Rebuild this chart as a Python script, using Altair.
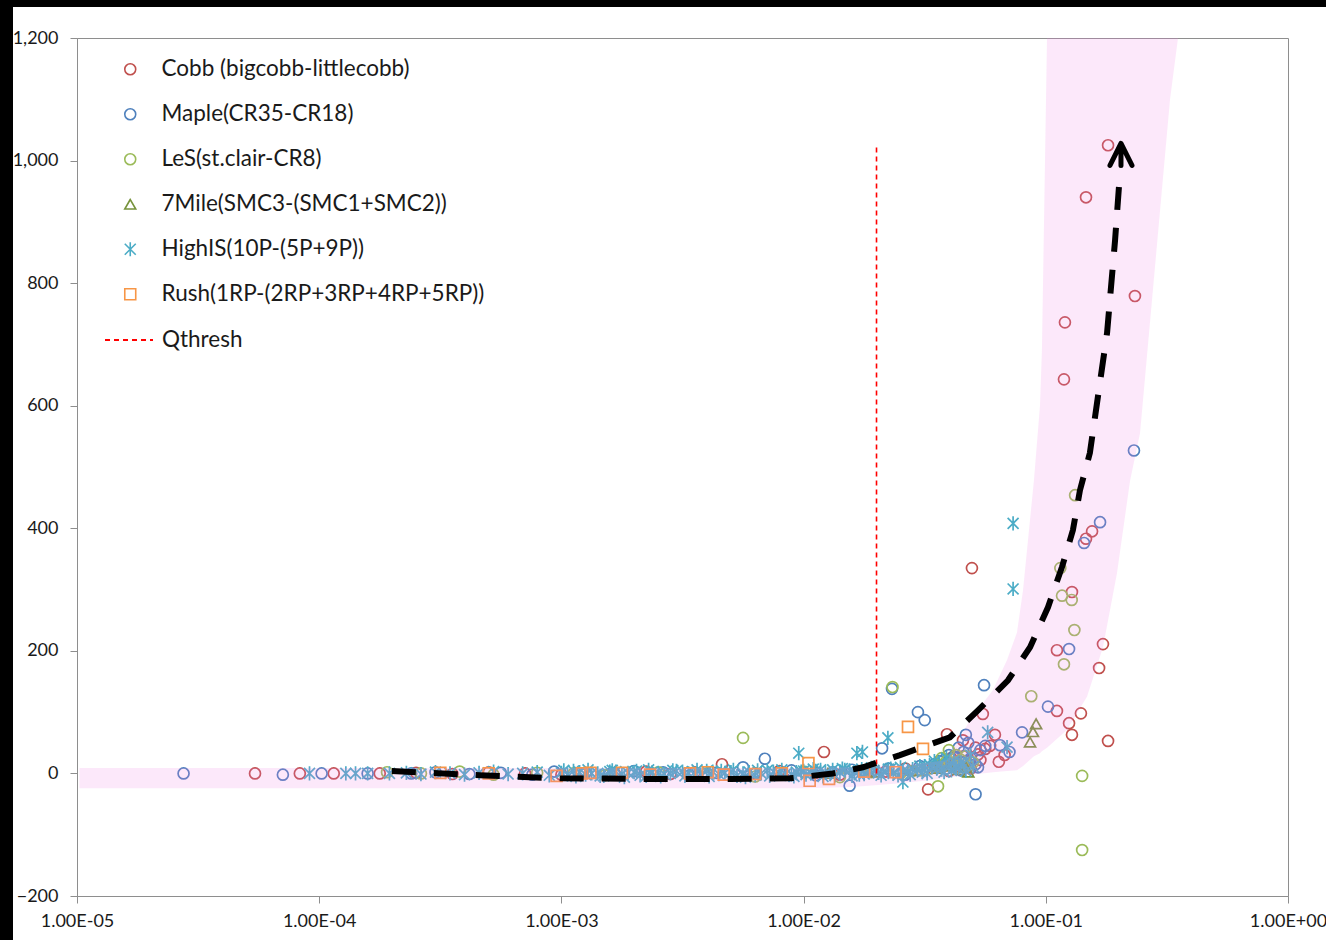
import altair as alt
import pandas as pd

# ---------------- data (x stored as log10 of Q) ----------------
SERIES = ["Cobb (bigcobb-littlecobb)", "Maple(CR35-CR18)", "LeS(st.clair-CR8)",
          "7Mile(SMC3-(SMC1+SMC2))", "HighIS(10P-(5P+9P))", "Rush(1RP-(2RP+3RP+4RP+5RP))"]
COLORS = ["#C0504D", "#4F81BD", "#9BBB59", "#77933C", "#4BACC6", "#F79646"]
ASTERISK = "M-1,-1L1,1M-1,1L1,-1M0,-1.3L0,1.3"
SHAPES = ["circle", "circle", "circle", "triangle-up", ASTERISK, "square"]
SIZES = [120, 120, 120, 130, 105, 140]

cobb_log10q = [
    -4.265, -4.08, -3.94, -3.75, -3.60, -3.45, -3.30, -3.15, -3.00, -2.90,
    -2.78, -2.65, -2.55, -2.45, -2.337, -2.20, -2.10, -1.95, -1.85, -1.75,
    -1.66, -1.58, -1.50, -1.45, -1.40, -1.36,
    -0.743, -0.834, -0.632, -0.921, -0.925, -1.305, -0.809, -0.834, -0.892, -0.764,
    -0.954, -0.78, -0.954, -0.855, -0.904, -0.892, -0.743, -1.26, -1.408, -1.21,
    -1.194, -1.17, -1.28, -1.486, -1.916, -1.342, -1.23, -1.25, -1.33, -1.38,
    -1.43, -1.39, -1.34, -1.31, -1.29, -1.27]
cobb_y = [
    0, 0, 0, 0, 1, -1, 2, 0, -2, 1,
    0, 3, -1, 2, 15, 0, 4, 1, -2, 5,
    3, 8, 6, 10, 4, 12,
    1025, 940, 779, 736, 643, 335, 395, 383, 296, 211,
    201, 172, 102, 98, 82, 63, 53, 97, 64, 63,
    19, 30, 31, -26, 35, 54, 45, 40, 20, 15,
    10, 25, 28, 8, 42, 22]

maple_log10q = [
    -4.56, -4.15, -3.99, -3.80, -3.62, -3.52, -3.38, -3.25, -3.12, -3.03,
    -2.92, -2.80, -2.70, -2.58, -2.47, -2.36, -2.25, -2.16, -2.05, -1.95,
    -1.88, -1.80, -1.72, -1.65, -1.58, -1.52, -1.46, -1.42, -1.38, -1.34,
    -0.636, -0.776, -0.842, -0.904, -0.991, -1.098, -1.255, -1.29, -1.635, -1.528,
    -1.50, -1.676, -1.81, -1.33, -1.32, -1.36, -1.25, -1.189, -1.15, -1.28, -1.40,
    -1.44, -1.41, -1.37, -1.35, -1.31, -1.29, -1.27]
maple_y = [
    0, -2, 0, 0, 0, 2, -1, 1, -2, 3,
    0, -1, 4, 2, -3, 1, 10, 24, 5, -3,
    2, 6, 4, 8, -2, 12, 15, 22, 28, 35,
    527, 410, 376, 203, 109, 67, 144, -34, 138, 100,
    87, 41, -20, 63, 50, 42, 45, 46, 35, 10, 30,
    20, 8, 18, 5, 25, 15, 38]

les_log10q = [
    -3.72, -3.58, -3.42, -3.28, -3.10, -2.95, -2.82, -2.60, -2.40, -2.20,
    -2.00, -1.85, -1.72, -1.60, -1.52, -1.46, -1.42, -1.38, -1.35, -1.32,
    -0.85, -0.85, -0.879, -0.94, -0.933, -0.893, -0.882, -0.925, -1.06, -1.633,
    -2.25, -1.445, -1.43, -1.37, -1.40,
    -1.48, -1.44, -1.41, -1.36, -1.33, -1.30, -1.55]
les_y = [
    2, 0, 3, -2, 1, 0, -3, 2, 0, -5,
    3, -6, 2, 0, 5, 10, 14, 18, 22, 12,
    -125, -4, 454, 335, 290, 283, 234, 178, 126, 141,
    58, -21, 25, 30, 38,
    8, 14, 20, 10, 28, 18, 4]

mile_log10q = [-2.80, -2.40, -2.10, -1.90, -1.70, -1.55, -1.45, -1.40, -1.36, -1.33,
               -1.32, -1.04, -1.053, -1.065]
mile_y = [0, 1, -2, 0, 2, 5, 8, 12, 6, 10,
          2, 81, 68, 51]

highis_log10q = [
    -4.04, -3.89, -3.85, -3.80, -3.71, -3.64, -3.58, -3.52, -3.46, -3.40,
    -3.34, -3.28, -3.22, -3.16, -3.10, -3.05, -3.00, -2.95, -2.90, -2.85,
    -2.80, -2.75, -2.70, -2.65, -2.60, -2.55, -2.50, -2.45, -2.40, -2.35,
    -2.30, -2.25, -2.20, -2.15, -2.10, -2.05, -2.01, -1.97, -1.93, -1.89,
    -1.85, -1.81, -1.77, -1.73, -1.69, -1.65, -1.61, -1.57, -1.53, -1.49,
    -1.45, -1.42, -1.39, -1.36, -1.33, -1.30, -2.02, -1.78, -1.757, -1.652,
    -1.59, -1.24, -1.16, -1.135, -1.135, -1.50, -1.44, -1.38,
    -2.975, -2.925, -2.875, -2.825, -2.775, -2.725, -2.675, -2.625, -2.575, -2.525,
    -2.475, -2.425, -2.375, -2.325, -2.275, -2.225, -2.175, -2.125, -2.075, -2.03,
    -1.99, -1.95, -1.91, -1.87, -1.83, -1.79, -1.75, -1.71, -1.67, -1.63,
    -1.59, -1.55, -1.51, -1.47, -1.43, -1.40, -1.37, -1.34,
    -2.99, -2.94, -2.89, -2.84, -2.79, -2.74, -2.69, -2.64, -2.59, -2.54,
    -2.49, -2.44, -2.39, -2.34, -2.29, -2.24, -2.19, -2.14, -2.09, -2.04,
    -2.00, -1.96, -1.92, -1.88, -1.84, -1.80, -1.76, -1.72, -1.68, -1.64,
    -1.60, -1.56, -1.52, -1.48, -1.46, -1.41, -1.35, -1.31]
highis_y = [
    0, 0, 0, 0, 0, 1, -1, 2, 0, -2,
    1, 3, -1, 0, 2, -3, 1, 4, -2, 0,
    3, -1, 2, -4, 1, 0, 3, -2, 4, -1,
    2, 0, -3, 5, 1, -2, 3, 0, 6, -1,
    2, 5, -2, 4, 1, 7, -3, 3, 6, 0,
    8, 2, 5, 9, 4, 11, 33, 33, 35, 58,
    -14, 67, 43, 408, 301, 12, 16, 20,
    -2, 2, 0, -4, 3, 1, -3, 2, -1, 4,
    0, -2, 3, 1, -4, 2, 0, 3, -1, 2,
    -2, 4, 1, -3, 6, 2, -1, 5, 3, 0,
    4, 7, 2, 10, 6, 14, 9, 16,
    5, -5, 6, -4, 5, -6, 4, 6, -5, 5,
    -4, 6, -5, 4, 6, -6, 5, -4, 6, -5,
    4, 7, -5, 6, 8, -4, 7, 9, -3, 8,
    10, -2, 12, 14, 20, 25, 18, 30]

rush_log10q = [-3.50, -3.30, -3.02, -2.915, -2.88, -2.75, -2.634, -2.469, -2.395, -2.33,
               -2.20, -2.09, -1.98, -1.975, -1.895, -1.75, -1.62, -1.569, -1.507]
rush_y = [1, 0, -4, 0, 1, 1, -2, 0, 2, -2,
          -1, 0, 17, -12, -9, 3, 2, 76, 40]

# trend (dashed black arrow)
curve_log10q = [-3.70, -3.336, -3.006, -2.634, -2.304, -2.056, -1.879, -1.755, -1.602, -1.396,
                -1.28, -1.156, -1.065, -0.991, -0.933, -0.888, -0.859, -0.818, -0.747, -0.714,
                -0.698]
curve_y = [4, -3, -8, -9, -9, -8, 0, 10, 30, 59,
           103, 152, 206, 271, 337, 397, 462, 523, 719, 870,
           957]
arrow_log10q = [-0.6896]
arrow_y = [1010]

# pink envelope
band_log10q = [-4.99, -2.0, -1.8, -1.6, -1.5, -1.408, -1.313, -1.218, -1.16, -1.119,
               -1.094, -1.049, -1.024, -1.016, -0.995, -0.913, -0.83, -0.764, -0.706, -0.652,
               -0.611, -0.487, -0.454]
band_lo = [-24, -24, -22, -16, -12, -7, -2, 2, 4, 5,
           12, 28, 33, 36, 42, 71, 125, 206, 327, 478,
           555, 1100, 1200]
band_hi = [9, 9, 10, 14, 17, 22, 87, 136, 185, 230,
           299, 478, 600, 690, 1200, 1200, 1200, 1200, 1200, 1200,
           1200, 1200, 1200]

qthresh_q = [0.02]
qthresh_y0 = [0]
qthresh_y1 = [1022]

# ---------------- tables ----------------
rows = []
for name, L, Y in zip(SERIES,
                      [cobb_log10q, maple_log10q, les_log10q, mile_log10q, highis_log10q, rush_log10q],
                      [cobb_y, maple_y, les_y, mile_y, highis_y, rush_y]):
    assert len(L) == len(Y), name
    for l, v in zip(L, Y):
        rows.append({"series": name, "q": 10 ** l, "y": v})
pts = pd.DataFrame(rows)

assert len(curve_log10q) == len(curve_y)
curve = pd.DataFrame({"q": [10 ** l for l in curve_log10q], "y": curve_y,
                      "i": list(range(len(curve_y)))})
arrow = pd.DataFrame({"q": [10 ** l for l in arrow_log10q], "y": arrow_y})
assert len(band_log10q) == len(band_lo) == len(band_hi)
band = pd.DataFrame({"q": [10 ** l for l in band_log10q], "lo": band_lo, "hi": band_hi})
qth = pd.DataFrame({"q": qthresh_q, "y0": qthresh_y0, "y1": qthresh_y1, "name": ["Qthresh"]})

# ---------------- scales / axes ----------------
FONT = "Lato"
GRAY = "#8E8E8E"
label_expr = ("'1.00E' + (round(log(datum.value)/LN10) < 0 ? '-' : '+') + "
              "(abs(round(log(datum.value)/LN10)) < 10 ? '0' : '') + abs(round(log(datum.value)/LN10))")
xscale = alt.Scale(type="log", domain=[1e-5, 1])
yscale = alt.Scale(domain=[-200, 1200], nice=False, zero=False)
xaxis = alt.Axis(values=[1e-5, 1e-4, 1e-3, 1e-2, 1e-1, 1], labelExpr=label_expr, grid=False,
                 tickSize=7, labelPadding=9, labelFontSize=18, labelFont=FONT,
                 labelColor="#1a1a1a", domainColor=GRAY, tickColor=GRAY, labelFlush=False)
yaxis = alt.Axis(values=[-200, 0, 200, 400, 600, 800, 1000, 1200],
                 labelExpr="format(datum.value, ',')", grid=False,
                 tickSize=7, labelPadding=12, labelFontSize=18, labelFont=FONT,
                 labelColor="#1a1a1a", domainColor=GRAY, tickColor=GRAY)

X = alt.X("q:Q", scale=xscale, axis=xaxis, title=None)
Y = alt.Y("y:Q", scale=yscale, axis=yaxis, title=None)

leg1 = alt.Legend(orient="none", legendX=42, legendY=20, symbolSize=60, symbolStrokeWidth=1.6,
                  labelOffset=20, rowPadding=22, labelFontSize=22.5, labelFont=FONT,
                  labelColor="#1a1a1a", padding=0, labelLimit=500)
leg2 = alt.Legend(orient="none", legendX=27, legendY=277, symbolType="stroke", symbolSize=2304,
                  symbolStrokeColor="#FF0000", symbolStrokeWidth=2, labelOffset=8,
                  labelFontSize=22.5, labelFont=FONT, labelColor="#1a1a1a", padding=0)

points = alt.Chart(pts).mark_point(filled=False, strokeWidth=1.7, opacity=1).encode(
    x=X, y=Y,
    color=alt.Color("series:N", scale=alt.Scale(domain=SERIES, range=COLORS), legend=leg1, title=None),
    shape=alt.Shape("series:N", scale=alt.Scale(domain=SERIES, range=SHAPES), legend=leg1, title=None),
    size=alt.Size("series:N", scale=alt.Scale(domain=SERIES, range=SIZES), legend=None),
)

envelope = alt.Chart(band).mark_area(color="#F07FE6", opacity=0.18).encode(
    x=alt.X("q:Q", scale=xscale, axis=xaxis, title=None),
    y=alt.Y("lo:Q", scale=yscale, axis=yaxis, title=None),
    y2="hi:Q",
)

qrule = alt.Chart(qth).mark_rule(color="#FF0000", strokeWidth=1.6).encode(
    x=alt.X("q:Q", scale=xscale, axis=xaxis, title=None),
    y=alt.Y("y0:Q", scale=yscale, axis=yaxis, title=None),
    y2="y1:Q",
    strokeDash=alt.StrokeDash("name:N", scale=alt.Scale(domain=["Qthresh"], range=[[5, 4]]),
                              legend=leg2, title=None),
)

trend = alt.Chart(curve).mark_line(color="black", strokeWidth=6, strokeDash=[24, 18]).encode(
    x=X, y=Y, order="i:Q")

head = alt.Chart(arrow).mark_point(shape="M-1,1L0,-1L1,1M0,-1L0,1", size=484, filled=False,
                                   color="black", strokeWidth=5, strokeCap="round",
                                   strokeJoin="round", opacity=1).encode(x=X, y=Y)

# black frame strips of the screenshot (top and left)
dummy = alt.Data(values=[{"k": 1}])
top_strip = alt.Chart(dummy).mark_rect(color="black").encode(
    x=alt.value(-77), x2=alt.value(1249), y=alt.value(-38), y2=alt.value(-31))
left_strip = alt.Chart(dummy).mark_rect(color="black").encode(
    x=alt.value(-77), x2=alt.value(-64), y=alt.value(-38), y2=alt.value(902))

chart = alt.layer(points, envelope, qrule, trend, head, top_strip, left_strip).properties(
    width=1211, height=858,
    autosize=alt.AutoSizeParams(type="none"),
    padding={"left": 77, "top": 38, "right": 38, "bottom": 44},
    background="white",
).configure_view(stroke=GRAY, strokeWidth=1)

chart.save("out.html", embed_options={"renderer": "svg", "actions": False})
